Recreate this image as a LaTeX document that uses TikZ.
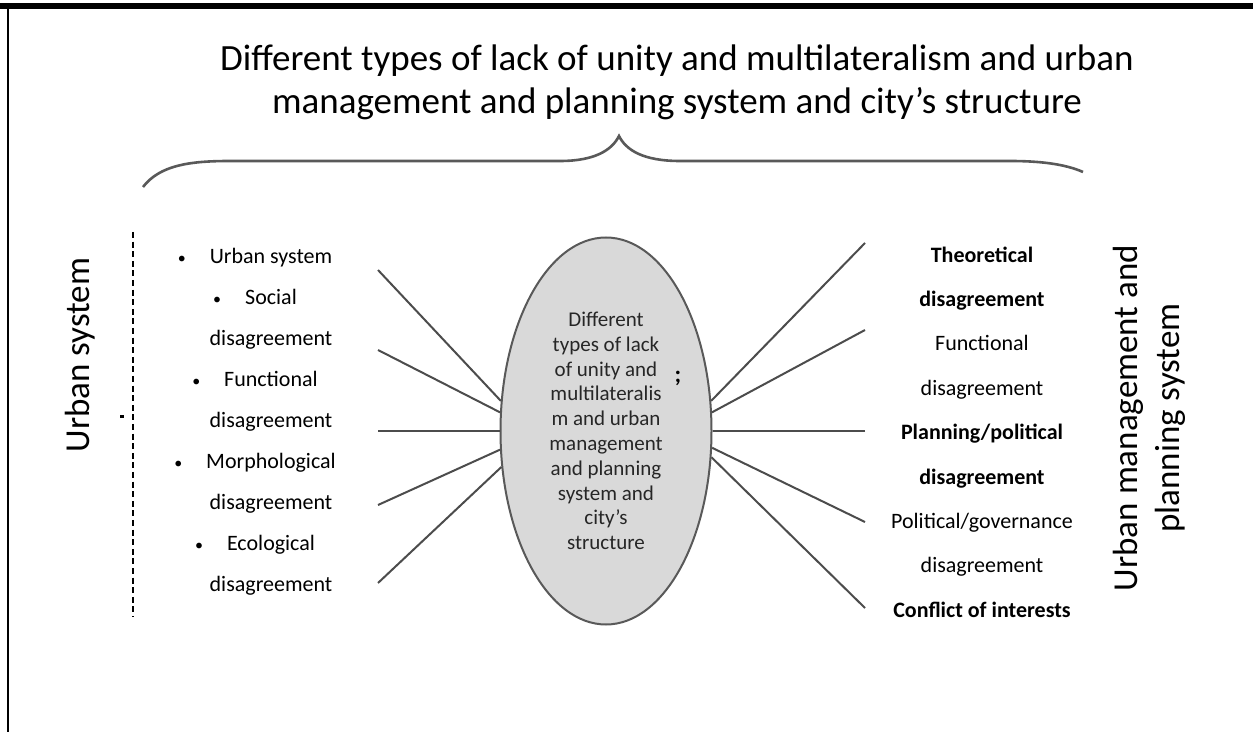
\documentclass[tikz,border=0pt]{standalone}
\usepackage{fontspec}
\setmainfont{Carlito}
\usetikzlibrary{shapes.geometric}

\begin{document}
\begin{tikzpicture}[x=0.5pt,y=-0.5pt,
    spoke/.style={draw=black!70, line width=1pt},
    items/.style={font=\fontsize{11}{20.5}\selectfont, align=center},
    side/.style={font=\fontsize{17.5}{21}\selectfont, rotate=90, align=center}]
  \useasboundingbox (0,0) rectangle (1253,732);
  \fill (0,3) rectangle (1253,9);
  \draw[line width=1pt] (8,9) -- (8,732);

  \node[font=\fontsize{18.5}{21.5}\selectfont, align=center] (title) at (677,82)
    {Different types of lack of unity and multilateralism and urban\\
     management and planning system and city’s structure};
  \draw[draw=black!65, line width=1.3pt] (143,187) .. controls (160,165) and (190,161) .. (230,161)
    -- (560,161) .. controls (595,161) and (612,150) .. (619,136)
    .. controls (626,150) and (643,161) .. (680,161)
    -- (1010,161) .. controls (1040,161) and (1065,164) .. (1083,172);

  \node[side] (usys) at (80,355) {Urban system};
  \draw[line width=1.3pt, dash pattern=on 3pt off 1.8pt] (133,232) -- (133,617);
  \fill (120,415) rectangle (124,418);

  \node[items] (left) at (271,422)
    {\llap{{\fontsize{8}{8}\selectfont•}\hspace{12pt}}Urban system\\
     \llap{{\fontsize{8}{8}\selectfont•}\hspace{12pt}}Social\\
     disagreement\\
     \llap{{\fontsize{8}{8}\selectfont•}\hspace{12pt}}Functional\\
     disagreement\\
     \llap{{\fontsize{8}{8}\selectfont•}\hspace{12pt}}Morphological\\
     disagreement\\
     \llap{{\fontsize{8}{8}\selectfont•}\hspace{12pt}}Ecological\\
     disagreement};

  \node[ellipse, draw=black!65, fill=black!15, line width=1pt, inner sep=0pt,
        minimum width=105.5pt, minimum height=193.5pt, text=black!85,
        font=\fontsize{10.5}{12.4}\selectfont, align=center] (core) at (606,431)
    {Different\\types of lack\\of unity and\\multilateralis\\m and urban\\management\\and planning\\system and\\city’s\\structure};
  \node[font=\bfseries\large] (semi) at (678,378) {;};

  \node[items, font=\fontsize{11}{22.2}\selectfont] (right) at (982,432)
    {\textbf{Theoretical}\\
     \textbf{disagreement}\\
     Functional\\
     disagreement\\
     \textbf{Planning/political}\\
     \textbf{disagreement}\\
     Political/governance\\
     disagreement\\
     \textbf{Conflict of interests}};
  \node[side] (umps) at (1149,418) {Urban management and\\planning system};

  \coordinate (l1) at (378,270);
  \coordinate (l2) at (378,350);
  \coordinate (l3) at (378,431);
  \coordinate (l4) at (378,505);
  \coordinate (l5) at (378,583);
  \coordinate (r1) at (865,243);
  \coordinate (r2) at (865,330);
  \coordinate (r3) at (865,431);
  \coordinate (r4) at (865,522);
  \coordinate (r5) at (865,608);
  \foreach \e/\a in {l1/164,l2/170,l3/180,l4/190,l5/199,r1/16,r2/10,r3/0,r4/351,r5/346}
    \draw[spoke] (\e) -- (core.\a);
\end{tikzpicture}
\end{document}
